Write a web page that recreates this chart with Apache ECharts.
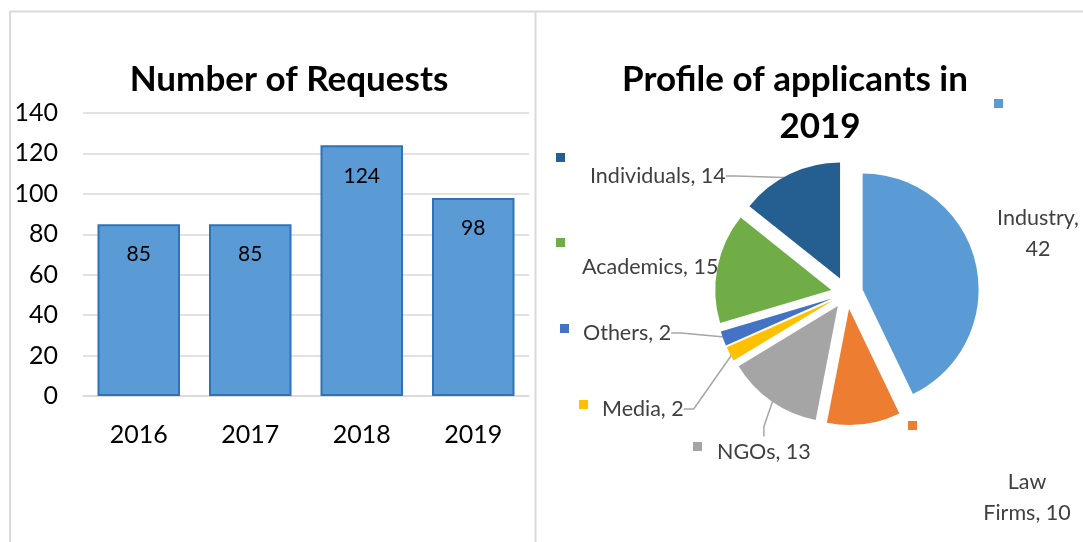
<!DOCTYPE html>
<html>
<head>
<meta charset="utf-8">
<script src="https://cdn.jsdelivr.net/npm/echarts@6/dist/echarts.min.js"></script>
<style>
  html, body { margin: 0; padding: 0; background: #fff; }
  #chart { width: 1083px; height: 542px; }
</style>
</head>
<body>
<div id="chart"></div>
<script>
// values
const years = ['2016', '2017', '2018', '2019']
const requests = [85, 85, 124, 98]
const yMax = 140
const yStep = 20

const groups = ['Industry', 'Law Firms', 'NGOs', 'Media', 'Others', 'Academics', 'Individuals']
const groupCounts = [42, 10, 13, 2, 2, 15, 14]

// office palette, one per group
const groupColors = ['#5B9BD5', '#ED7D31', '#A5A5A5', '#FFC000', '#4472C4', '#70AD47', '#255E91']

// where the data labels sit (excel placed them by hand)
// wrap: 'value' -> newline before the number, 'name' -> newline inside the name
const labelSpots = [
  { x: 1038, y: 234, align: 'center', wrap: 'value', line: false },
  { x: 1027, y: 498, align: 'center', wrap: 'name', line: false },
  { x: 717, y: 452, align: 'left', line: true },
  { x: 602, y: 409, align: 'left', line: true },
  { x: 583, y: 333, align: 'left', line: true },
  { x: 582, y: 267, align: 'left', line: false },
  { x: 590, y: 176, align: 'left', line: true }
]
// legend key squares, top-left corners
const keySpots = [[994, 99], [908, 421], [693, 442], [579, 400], [560, 324], [556, 238], [556, 153]]

const FONT = 'Lato, "Noto Sans", sans-serif'
const GRID_GREY = '#d9d9d9'
const PIE_CENTER = [847, 293]

const chart = echarts.init(document.getElementById('chart'), null, { renderer: 'canvas' })

// exploded slices, no labels
const sliceData = groups.map((name, i) => ({
  name: name,
  value: groupCounts[i],
  selected: true,
  itemStyle: { color: groupColors[i] }
}))

// same values again, transparent, only to carry the labels + leader lines
const labelData = groups.map((name, i) => ({
  name: name,
  value: groupCounts[i],
  labelLine: { show: labelSpots[i].line }
}))

function pieLabelText(p) {
  const wrap = labelSpots[p.dataIndex].wrap
  if (wrap === 'value') return p.name + ',\n' + p.value
  if (wrap === 'name') return p.name.replace(' ', '\n') + ', ' + p.value
  return p.name + ', ' + p.value
}

const keyLegends = keySpots.map((p, i) => ({
  left: p[0],
  top: p[1],
  data: [groups[i]],
  icon: 'rect',
  itemWidth: 9,
  itemHeight: 9,
  padding: 0,
  selectedMode: false,
  formatter: () => '',
  textStyle: { fontSize: 1 }
}))

const titleStyle = { fontFamily: FONT, fontWeight: 'bold', fontSize: 35, color: '#000' }

const option = {
  animation: false,
  backgroundColor: '#fff',
  textStyle: { fontFamily: FONT },
  title: [
    { text: 'Number of Requests', left: 284, top: 57, textAlign: 'center', textStyle: titleStyle },
    { text: 'Profile of applicants in', left: 790, top: 57, textAlign: 'center', textStyle: titleStyle },
    { text: '2019', left: 815, top: 104, textAlign: 'center', textStyle: titleStyle }
  ],
  legend: keyLegends,
  grid: { left: 83, top: 113, width: 446, height: 283, containLabel: false },
  xAxis: {
    type: 'category',
    data: years,
    axisLine: { lineStyle: { color: GRID_GREY, width: 1.5 } },
    axisTick: { show: false },
    axisLabel: { fontFamily: FONT, fontSize: 25, color: '#000', margin: 26 }
  },
  yAxis: {
    type: 'value',
    min: 0,
    max: yMax,
    interval: yStep,
    axisLine: { show: false },
    axisTick: { show: false },
    axisLabel: { fontFamily: FONT, fontSize: 25, color: '#000', margin: 25 },
    splitLine: { lineStyle: { color: GRID_GREY, width: 1.5 } }
  },
  graphic: [
    // outer frame and the divider between the two charts
    { type: 'line', shape: { x1: 10, y1: 11.5, x2: 1083, y2: 11.5 }, style: { stroke: GRID_GREY, lineWidth: 2 } },
    { type: 'line', shape: { x1: 10, y1: 11, x2: 10, y2: 542 }, style: { stroke: GRID_GREY, lineWidth: 2 } },
    { type: 'line', shape: { x1: 535.5, y1: 11, x2: 535.5, y2: 542 }, style: { stroke: GRID_GREY, lineWidth: 2 } }
  ],
  series: [
    {
      type: 'bar',
      data: requests,
      barWidth: '74%',
      itemStyle: { color: '#5B9BD5', borderColor: '#2F73B6', borderWidth: 2 },
      label: { show: true, position: 'insideTop', distance: 20, fontFamily: FONT, fontSize: 21, color: '#000' },
      emphasis: { disabled: true }
    },
    {
      type: 'pie',
      center: PIE_CENTER,
      radius: 116,
      startAngle: 90,
      clockwise: true,
      selectedMode: 'multiple',
      selectedOffset: 16,
      emphasis: { disabled: true },
      itemStyle: { borderWidth: 0 },
      label: { show: false },
      labelLine: { show: false },
      data: sliceData
    },
    {
      type: 'pie',
      center: PIE_CENTER,
      radius: 128,
      startAngle: 90,
      clockwise: true,
      silent: true,
      avoidLabelOverlap: false,
      selectedMode: false,
      emphasis: { disabled: true },
      itemStyle: { color: 'rgba(0,0,0,0)', borderWidth: 0 },
      label: {
        show: true,
        position: 'outside',
        formatter: pieLabelText,
        fontFamily: FONT,
        fontSize: 21.5,
        lineHeight: 31,
        color: '#404040'
      },
      labelLine: { show: true, length: 10, length2: 10, lineStyle: { color: '#a6a6a6', width: 1.5 } },
      labelLayout: function (params) {
        const s = labelSpots[params.dataIndex]
        return { x: s.x, y: s.y, align: s.align, verticalAlign: 'middle' }
      },
      data: labelData
    }
  ]
}

chart.setOption(option)
</script>
</body>
</html>
